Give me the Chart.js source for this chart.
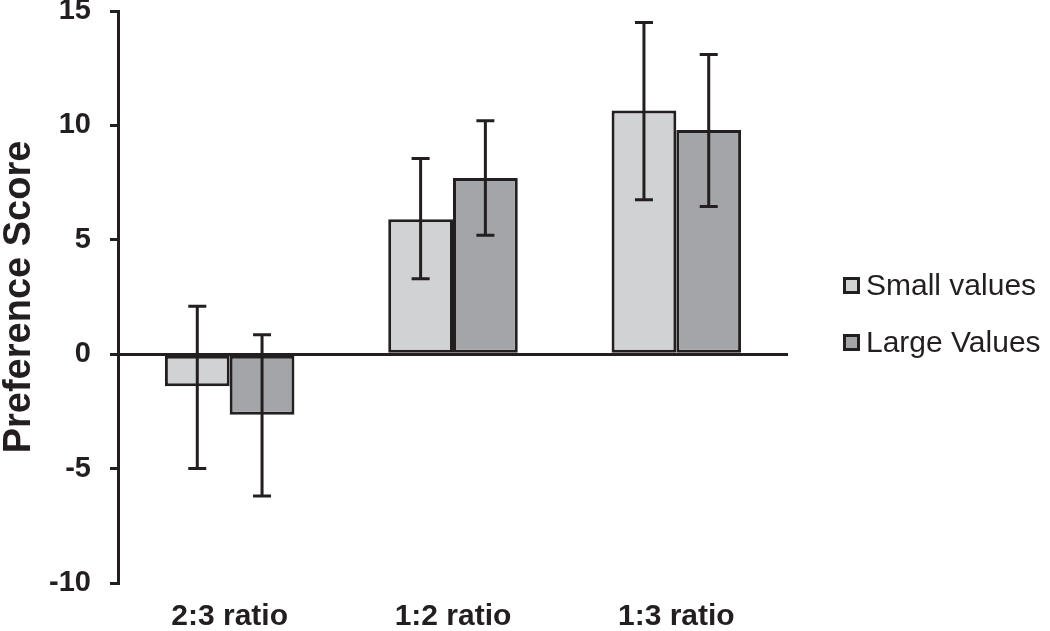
<!DOCTYPE html>
<html>
<head>
<meta charset="utf-8">
<script src="https://cdn.jsdelivr.net/npm/chart.js@4"></script>
<style>
  body { margin: 0; background: #fff; }
  #wrap { position: relative; width: 1050px; height: 631px; }
  #legend { position: absolute; left: 843px; top: 266px; font-family: "Liberation Sans", Arial, sans-serif; font-size: 30px; color: #231f20; }
  .legend-item { display: flex; align-items: center; height: 38px; margin-bottom: 19px; }
  .legend-box { width: 11px; height: 11px; border: 3px solid #231f20; margin-right: 6px; }
</style>
</head>
<body>
<div id="wrap">
  <canvas id="chart" width="1050" height="631"></canvas>
  <div id="legend"></div>
</div>
<script>
const categories = ['2:3 ratio', '1:2 ratio', '1:3 ratio'];
const seriesNames = ['Small values', 'Large Values'];
const seriesColors = ['#d1d2d4', '#a4a5a8'];

const smallValues = [-1.4, 5.9, 10.65];
const largeValues = [-2.65, 7.7, 9.8];

// error bar ends
const smallLower = [-5.0, 3.3, 6.75];
const smallUpper = [2.1, 8.55, 14.5];
const largeLower = [-6.2, 5.2, 6.45];
const largeUpper = [0.85, 10.2, 13.1];

const yTicks = [-10, -5, 0, 5, 10, 15];

const ink = '#231f20';
const fontFamily = '"Liberation Sans", Arial, Helvetica, sans-serif';

const errorBars = {
    id: 'errorBars',
    afterDatasetsDraw(chart) {
        const ctx = chart.ctx;
        const yScale = chart.scales.y;
        chart.data.datasets.forEach((ds, di) => {
            const meta = chart.getDatasetMeta(di);
            meta.data.forEach((bar, i) => {
                const top = yScale.getPixelForValue(ds.upper[i]);
                const bottom = yScale.getPixelForValue(ds.lower[i]);
                const x = bar.x;
                ctx.save();
                ctx.strokeStyle = ink;
                ctx.lineWidth = 3;
                ctx.beginPath();
                ctx.moveTo(x, top);
                ctx.lineTo(x, bottom);
                ctx.moveTo(x - 9, top);
                ctx.lineTo(x + 9, top);
                ctx.moveTo(x - 9, bottom);
                ctx.lineTo(x + 9, bottom);
                ctx.stroke();
                ctx.restore();
            });
        });
    }
};

function buildLegend() {
    const legend = document.getElementById('legend');
    legend.innerHTML = seriesNames.map((name, i) => `
        <div class="legend-item">
            <div class="legend-box" style="background:${seriesColors[i]}"></div>
            <span>${name}</span>
        </div>
    `).join('');
}

const ctx = document.getElementById('chart').getContext('2d');
new Chart(ctx, {
    type: 'bar',
    data: {
        labels: categories,
        datasets: [
            {
                label: seriesNames[0],
                data: smallValues,
                lower: smallLower,
                upper: smallUpper,
                backgroundColor: seriesColors[0],
                borderColor: ink,
                borderWidth: 3,
                borderSkipped: false
            },
            {
                label: seriesNames[1],
                data: largeValues,
                lower: largeLower,
                upper: largeUpper,
                backgroundColor: seriesColors[1],
                borderColor: ink,
                borderWidth: 3,
                borderSkipped: false
            }
        ]
    },
    options: {
        responsive: false,
        animation: false,
        categoryPercentage: 0.58,
        barPercentage: 1,
        layout: { padding: { top: 0, right: 262, left: 0, bottom: 0 } },
        plugins: {
            legend: { display: false },
            tooltip: { enabled: false }
        },
        scales: {
            x: {
                grid: { display: false, drawTicks: false },
                border: { display: false },
                afterFit: (scale) => {
                    scale.height = 48;
                },
                ticks: {
                    color: ink,
                    padding: 19,
                    font: { family: fontFamily, size: 30, weight: 'bold', lineHeight: 1 }
                }
            },
            y: {
                min: -10,
                max: 15,
                afterBuildTicks: (scale) => {
                    scale.ticks = yTicks.map(v => ({ value: v }));
                },
                afterFit: (scale) => {
                    // keep the plot box where the original has it
                    scale.width = 118;
                    scale.paddingTop = 11;
                    scale.paddingBottom = 0;
                },
                border: { display: true, color: ink, width: 3 },
                grid: {
                    drawOnChartArea: true,
                    color: (c) => (c.tick && c.tick.value === 0 ? ink : 'rgba(0,0,0,0)'),
                    lineWidth: 3,
                    tickColor: ink,
                    tickLength: 8,
                    tickWidth: 3
                },
                ticks: {
                    color: ink,
                    padding: 19,
                    font: { family: fontFamily, size: 29, weight: 'bold', lineHeight: 1 }
                },
                title: {
                    display: true,
                    text: 'Preference Score',
                    color: ink,
                    padding: { top: 1, bottom: 0 },
                    font: { family: fontFamily, size: 38, weight: 'bold', lineHeight: 1 }
                }
            }
        }
    },
    plugins: [errorBars]
});

buildLegend();
</script>
</body>
</html>
